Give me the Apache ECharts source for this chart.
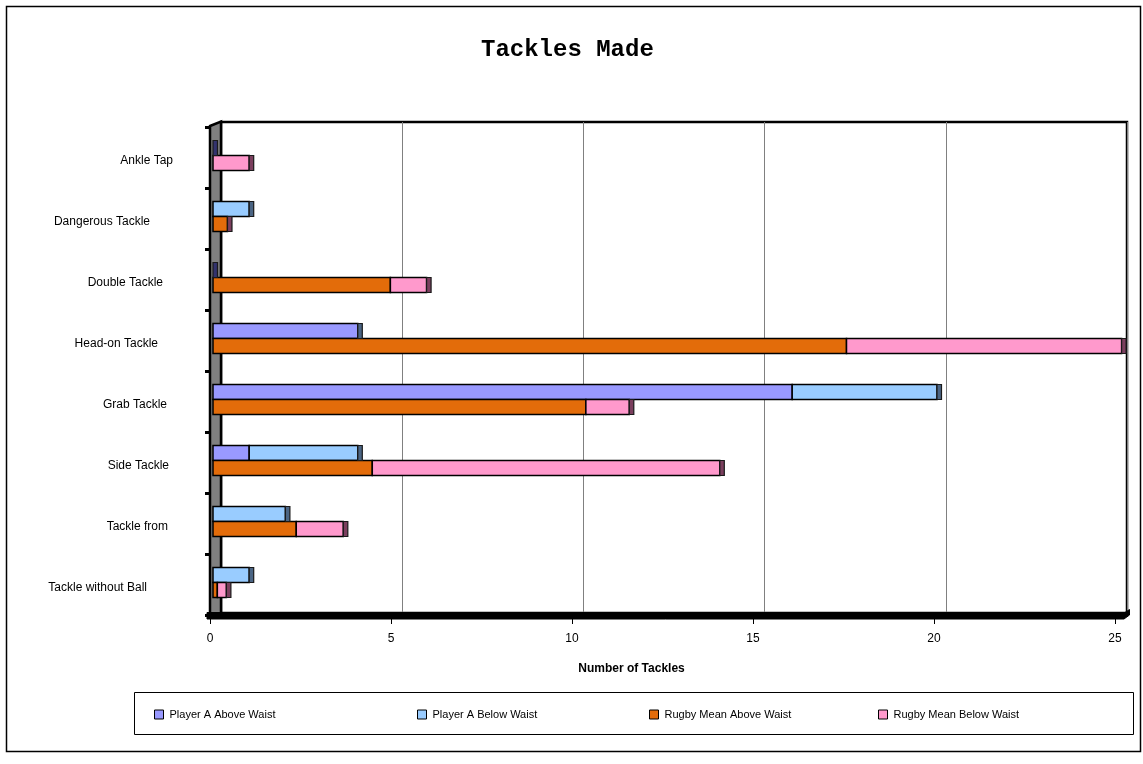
<!DOCTYPE html>
<html>
<head>
<meta charset="utf-8">
<title>Tackles Made</title>
<script src="https://cdn.jsdelivr.net/npm/echarts@6.0.0/dist/echarts.min.js"></script>
<style>
  html, body { margin: 0; padding: 0; background: #fff; }
  #chart { width: 1143px; height: 764px; }
</style>
</head>
<body>
<div id="chart"></div>
<script>
// ---- data ----
const categories = ['Ankle Tap', 'Dangerous Tackle', 'Double Tackle', 'Head-on Tackle',
  'Grab Tackle', 'Side Tackle', 'Tackle from', 'Tackle without Ball'];
const playerAAbove   = [0,   0,   0,   4.0, 16.0, 1.0, 0,   0];
const playerABelow   = [0,   1.0, 0,   0,   4.0,  3.0, 2.0, 1.0];
const rugbyMeanAbove = [0,   0.4, 4.9, 17.5, 10.3, 4.4, 2.3, 0.12];
const rugbyMeanBelow = [1.0, 0,   1.0, 7.6,  1.2,  9.6, 1.3, 0.25];
const xTickValues = [0, 5, 10, 15, 20, 25];
const seriesNames = ['Player A Above Waist', 'Player A Below Waist',
  'Rugby Mean Above Waist', 'Rugby Mean Below Waist'];

// ---- styling ----
const FONT = 'Arial, "Liberation Sans", sans-serif';
const fills = ['#9999ff', '#99ccff', '#e36c0a', '#ff99cc'];
const capFill = { a: '#4b6584', aEmpty: '#33336e', r: '#7b3f5e' };
const labelRightPad = [0, 23, 10, 15, 6, 4, 5, 26];
const legendLeft = [154, 417, 649, 878];
const BAR_H = 15, BAR_SHIFT = 2, CAP_W = 4.5;

// stacked segments [category, start, end] for one stack (lower, upper)
function stackSegments(lower, upper) {
  const lo = lower.map((v, i) => [i, 0, v]);
  const hi = upper.map((v, i) => [i, lower[i], lower[i] + upper[i]]);
  return [lo, hi];
}
const [aLo, aHi] = stackSegments(playerAAbove, playerABelow);
const [rLo, rHi] = stackSegments(rugbyMeanAbove, rugbyMeanBelow);
const segData = [aLo, aHi, rLo, rHi];
const slotOf = [0, 0, 1, 1];

function barTop(api, cat, slot) {
  const c = api.coord([0, cat]);
  return c[1] - BAR_SHIFT - BAR_H + slot * BAR_H;
}

function segmentRenderer(idx) {
  return function (params, api) {
    const cat = api.value(0), s = api.value(1), e = api.value(2);
    if (!(e - s > 0)) return;
    const p0 = api.coord([s, cat]);
    const p1 = api.coord([e, cat]);
    return {
      type: 'rect',
      shape: { x: p0[0], y: barTop(api, cat, slotOf[idx]), width: p1[0] - p0[0], height: BAR_H },
      style: { fill: fills[idx], stroke: '#000', lineWidth: 1.5 }
    };
  };
}

// the dark end face of each stack, at the stack total
function capRenderer(slot) {
  return function (params, api) {
    const cat = api.value(0), total = api.value(1);
    const p = api.coord([total, cat]);
    const fill = slot === 1 ? capFill.r : (total > 0 ? capFill.a : capFill.aEmpty);
    return {
      type: 'rect',
      shape: { x: p[0], y: barTop(api, cat, slot), width: CAP_W, height: BAR_H },
      style: { fill: fill, stroke: '#1a1a1a', lineWidth: 1.2 }
    };
  };
}

const series = seriesNames.map((name, idx) => ({
  name: name,
  type: 'custom',
  xAxisIndex: 0, yAxisIndex: 0,
  clip: false,
  z: 3,
  itemStyle: { color: fills[idx], borderColor: '#000', borderWidth: 1 },
  renderItem: segmentRenderer(idx),
  encode: { x: [1, 2], y: 0 },
  data: segData[idx]
}));
series.push({
  name: 'capsA', type: 'custom', xAxisIndex: 0, yAxisIndex: 0, clip: false, z: 4,
  renderItem: capRenderer(0), encode: { x: 1, y: 0 }, silent: true,
  data: playerAAbove.map((v, i) => [i, v + playerABelow[i]])
});
series.push({
  name: 'capsR', type: 'custom', xAxisIndex: 0, yAxisIndex: 0, clip: false, z: 4,
  renderItem: capRenderer(1), encode: { x: 1, y: 0 }, silent: true,
  data: rugbyMeanAbove.map((v, i) => [i, v + rugbyMeanBelow[i]])
});

const rich = {};
categories.forEach((c, i) => {
  rich['l' + i] = { fontFamily: FONT, fontSize: 12, color: '#000', padding: [6, labelRightPad[i], 0, 0] };
});

const xMin = xTickValues[0], xMax = xTickValues[xTickValues.length - 1];
const xStep = xTickValues[1] - xTickValues[0];

const option = {
  animation: false,
  backgroundColor: '#fff',
  title: {
    text: 'Tackles Made',
    left: 481, top: 38, padding: 0,
    textStyle: { fontFamily: '"Courier New", "Liberation Mono", monospace', fontWeight: 'bold', fontSize: 24, color: '#000' }
  },
  grid: [
    { left: 213, right: 25, top: 127, bottom: 149 },               // bars
    { left: 210, right: 28, top: 127, bottom: 145 },               // front value axis
    { left: 221, right: 16, top: 122, bottom: 151, show: true,     // back wall
      borderColor: '#000', borderWidth: 2.5, backgroundColor: 'transparent' }
  ],
  xAxis: [
    { gridIndex: 0, type: 'value', min: xMin, max: xMax, interval: xStep, show: false },
    { gridIndex: 1, type: 'value', min: xMin, max: xMax, interval: xStep,
      axisLine: { show: false },
      axisTick: { show: true, length: 5, lineStyle: { color: '#000', width: 1 } },
      axisLabel: { margin: 14, fontFamily: FONT, fontSize: 12, color: '#000' },
      splitLine: { show: false },
      name: 'Number of Tackles', nameLocation: 'middle', nameGap: 44,
      nameTextStyle: { fontFamily: FONT, fontSize: 12, fontWeight: 'bold', color: '#000', padding: [0, 62, 0, 0] }
    },
    { gridIndex: 2, type: 'value', min: xMin, max: xMax, interval: xStep,
      axisLine: { show: false }, axisTick: { show: false }, axisLabel: { show: false },
      splitLine: { show: true, lineStyle: { color: '#808080', width: 1 } }
    }
  ],
  yAxis: [
    { gridIndex: 0, type: 'category', data: categories, inverse: true, offset: 3,
      axisLine: { show: false },
      axisTick: { show: true, length: 8, interval: 0, lineStyle: { color: '#000', width: 3 } },
      axisLabel: { interval: 0, margin: 37, formatter: (v, i) => '{l' + i + '|' + v + '}', rich: rich },
      splitLine: { show: false }
    },
    { gridIndex: 1, type: 'category', data: categories, inverse: true, show: false },
    { gridIndex: 2, type: 'category', data: categories, inverse: true, show: false }
  ],
  legend: seriesNames.map((n, i) => ({
    data: [n], left: legendLeft[i], top: 709, padding: 0,
    icon: 'rect', itemWidth: 9, itemHeight: 9, itemGap: 0,
    itemStyle: { borderColor: '#000', borderWidth: 1 },
    textStyle: { fontFamily: FONT, fontSize: 11, color: '#000', padding: [0, 0, 0, 1] },
    selectedMode: false
  })),
  graphic: [
    { type: 'rect', z: 0, shape: { x: 6.5, y: 6.5, width: 1134, height: 745 },
      style: { fill: 'none', stroke: '#000', lineWidth: 1.5 } },
    { type: 'rect', z: 0, shape: { x: 134.5, y: 692.5, width: 999, height: 42 },
      style: { fill: 'none', stroke: '#000', lineWidth: 1 } },
    // left side wall
    { type: 'polygon', z: 1, shape: { points: [[210, 126], [221, 121.5], [221, 613], [210, 617]] },
      style: { fill: '#808080', stroke: '#000', lineWidth: 2.5 } },
    // floor slab
    { type: 'polygon', z: 1, shape: { points: [[207, 612.5], [1125, 612.5], [1129.5, 609.5], [1129.5, 615], [1124, 619], [207, 619]] },
      style: { fill: '#000', stroke: '#000', lineWidth: 1 } }
  ],
  series: series
};

const chart = echarts.init(document.getElementById('chart'), null, { renderer: 'canvas' });
chart.setOption(option);
</script>
</body>
</html>
